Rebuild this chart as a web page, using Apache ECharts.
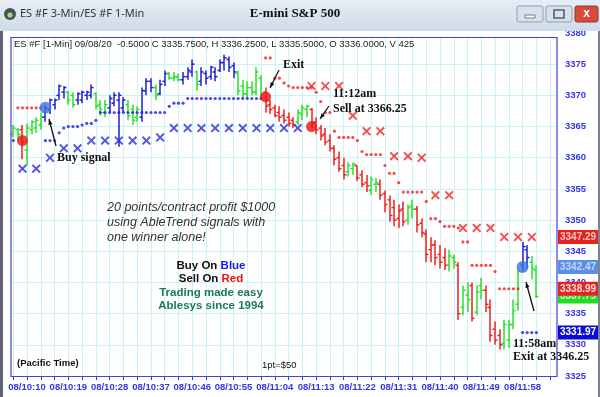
<!DOCTYPE html>
<html>
<head>
<meta charset="utf-8">
<script src="https://cdn.jsdelivr.net/npm/echarts@6/dist/echarts.min.js"></script>
<style>
  html, body { margin: 0; padding: 0; background: #fff; }
  #chart { width: 600px; height: 397px; }
</style>
</head>
<body>
<div id="chart"></div>
<script>
// 1-minute bars, 08/10:07 .. 08/12:01, [open, high, low, close]
var bars = [
  [3363.75,3365.25,3363.25,3364.75],[3364.5,3364.75,3362.75,3363.75],[3364.5,3365.25,3359.75,3362.5],
  [3361.25,3365.5,3358.75,3364.75],[3364.5,3366,3363.75,3365.75],[3364.75,3366.5,3364,3366],
  [3365.25,3367.25,3364.5,3366.5],[3366.5,3368.5,3365.75,3368],[3367.75,3369.5,3367,3369.25],
  [3368.5,3369.5,3367.75,3369.25],[3370,3371.75,3369.25,3371.5],[3370.5,3371.5,3369.5,3371.25],
  [3370.5,3370.75,3368.5,3369.25],[3370,3370.5,3368,3368.5],[3369.25,3370.5,3368.5,3370.25],
  [3369.25,3370.75,3368.75,3370.5],[3370,3370.75,3369.25,3370.5],[3370,3371.75,3369.5,3371.25],
  [3370.25,3370.5,3367.75,3368.25],[3368.5,3369.25,3366.75,3367.75],[3367.25,3369.25,3366.5,3368.5],
  [3368,3370,3367.25,3369.5],[3368.75,3370.5,3368.25,3370],[3369.25,3370.5,3361.75,3370],
  [3368,3369.75,3367.25,3369.25],[3368.5,3369.25,3366,3366.75],[3367.75,3368.5,3365.25,3366],
  [3366.5,3368.25,3365.75,3367.75],[3366.5,3371.25,3365.75,3370.75],[3370.75,3372.75,3370,3372.25],
  [3372.25,3372.75,3370.5,3371.25],[3371.25,3371.75,3369.25,3370],[3370.25,3372.5,3370,3371.75],
  [3372.25,3374,3371.5,3373.5],[3373.5,3373.75,3372.5,3372.75],[3372.75,3373.75,3372.25,3373],
  [3373,3373.5,3372.25,3372.5],[3372.5,3373.75,3371.75,3373],[3373,3374.5,3372.5,3374],
  [3373.75,3375.75,3373,3375],[3373.75,3374,3370.75,3371.75],[3372.25,3374.5,3371.5,3373.75],
  [3373.5,3374,3371.75,3372.75],[3373,3374.75,3372.5,3374.5],[3373.75,3374.5,3372.25,3373],
  [3374,3375.75,3373.75,3375.25],[3375.25,3376.5,3374,3376],[3375.75,3376.25,3373.75,3374.5],
  [3374.75,3375.25,3372.75,3373.75],[3373.5,3374,3370,3370.75],[3371.5,3372.5,3369.5,3370.25],
  [3370.25,3372.25,3369.5,3371.25],[3371.25,3372.25,3370,3370.5],[3370.5,3374.5,3370,3373.75],
  [3372.75,3373.25,3369.5,3370.25],[3370.5,3371.25,3367.25,3368.25],[3368.5,3369.25,3367,3367.75],
  [3368,3368.5,3366.5,3366.75],[3367.25,3368.25,3365.75,3366.5],[3366.75,3367.75,3365.5,3366],
  [3366.5,3367.25,3365,3365.5],[3366,3366.5,3364.75,3365.25],[3365.75,3367.75,3365.25,3367.25],
  [3367,3368.5,3366,3368],[3367.75,3368.5,3366.5,3368.25],[3367.75,3368,3364.75,3365.5],
  [3365.75,3366.5,3363.75,3364.5],[3364.75,3365.25,3362.75,3363.5],[3363.75,3364.75,3362,3362.5],
  [3362.75,3363.75,3361,3361.5],[3361.5,3362,3358.75,3359.75],[3360,3361,3357.75,3358.25],
  [3358.75,3360,3356.5,3357.25],[3357.75,3359.25,3357,3358.75],[3358.25,3359.25,3357.25,3359],
  [3358.75,3358.75,3356.25,3356.75],[3357.25,3358,3355.25,3355.75],[3356,3357.25,3354.5,3355.5],
  [3354.75,3357,3354,3356.5],[3355.75,3356.75,3354.5,3356],[3355.75,3356.5,3353.25,3354],
  [3354.25,3354.75,3351.25,3352.5],[3353.25,3354,3349.75,3350.75],[3352,3353.25,3349,3350],
  [3350.25,3352.5,3348.75,3351.5],[3351.75,3353,3349,3349.75],[3350,3352.5,3349.25,3352],
  [3352.25,3353.25,3350.25,3351.75],[3351.75,3352.25,3348,3349.25],[3349.5,3350.25,3347.25,3348],
  [3347.75,3348.5,3343.25,3344.5],[3345.25,3347.25,3343.25,3346],[3346,3346.75,3342.75,3344],
  [3344.5,3346,3342.25,3343.25],[3344,3345.5,3342,3342.75],[3342.75,3345.25,3341.75,3344.25],
  [3344,3344.5,3342.25,3343.25],[3342.75,3343.25,3334,3335],[3336,3339.5,3334.75,3338.75],
  [3338,3340,3335.25,3337.25],[3339.5,3340,3333.75,3334.25],[3335.25,3339.5,3334.75,3338.5],
  [3339.5,3340.75,3337.25,3338.75],[3338.75,3339.5,3335.25,3336.5],[3336,3337.25,3330.5,3331.5],
  [3332.5,3333.75,3330,3330.75],[3331.5,3332.5,3329.25,3330],[3330.25,3334,3329.25,3333.25],
  [3330.75,3334,3329.5,3333.25],[3333.25,3337.25,3332.5,3335.5],[3336.5,3342.25,3335.5,3341.75],
  [3342.75,3346.5,3341.75,3345.75],[3345.25,3346,3342.25,3344],[3343.25,3344.25,3340.5,3342.25],
  [3342,3342.75,3337.5,3337.75]
];
// bar colour state per bar: b = up trend, g = neutral, r = down trend
var trend = ('ggrgggg' + 'bbbbb' + 'gg' + 'bbbb' + 'ggg' + 'bbbb' + 'ggg' + 'bbb' + 'g' + 'bb' + 'ggg' +
  'bbb' + 'g' + 'bbbbbbbb' + 'gggggg' + 'rrrrrrr' + 'ggg' + 'rrrrrrrr' + 'gg' + 'rrr' + 'gg' + 'rrrrrr' +
  'gg' + 'rrrrrrr' + 'gg' + 'r' + 'gg' + 'r' + 'gg' + 'rrrr' + 'gggg' + 'bb' + 'gg').split('');

// 1-min stop dots [barIndex, price]
var blueStops = [
  [0,3362.75],[7,3362.75],[8,3362.75],[9,3362.75],[10,3364],[11,3364.75],[12,3365],[13,3365],
  [14,3365],[15,3365.25],[16,3365.5],[17,3365.5],[18,3366],[19,3367.25],[20,3367.25],[21,3367.25],
  [22,3367.25],[23,3367.25],[24,3367.25],[25,3367.25],[26,3367.25],[27,3367.25],[28,3367.25],
  [29,3367.25],[30,3367.25],[31,3367.25],[32,3367.25],[33,3367.25],[34,3368.25],[35,3368.75],
  [36,3368.75],[37,3368.75],[38,3369.5],[39,3369.5],[40,3369.5],[41,3369.5],[42,3369.5],[43,3369.5],
  [44,3369.5],[45,3369.5],[46,3369.5],[47,3369.5],[48,3369.5],[49,3369.5],[50,3369.5],[51,3369.5],
  [52,3369.5],[53,3369.5],[54,3369.5],[111,3331.97],[112,3331.97],[113,3331.97],[114,3331.97]
];
var redStops = [
  [1,3368],[2,3368],[3,3368],[4,3368],[5,3368],[6,3368],
  [55,3376],[56,3376],[57,3372.75],[58,3372.75],[59,3372],[60,3371.5],[61,3371.25],[62,3371.25],
  [63,3371.25],[64,3371.25],[65,3371.25],[66,3370.5],[67,3369],[68,3367.25],[69,3367.25],
  [70,3364.25],[71,3363.25],[72,3363.25],[73,3363.25],[74,3363.25],[75,3362.75],[76,3361],
  [77,3360.5],[78,3360.5],[79,3360.5],[80,3360.5],[81,3358.75],[82,3357.5],[83,3357.5],[84,3356],
  [85,3354.5],[86,3354.5],[87,3354.5],[88,3354.5],[89,3354.5],[90,3353],[91,3350.25],[92,3350.25],
  [93,3349.75],[94,3349],[95,3349],[96,3349],[97,3348.75],[98,3346.5],[99,3346.5],[100,3342.75],
  [101,3342.75],[102,3342.75],[103,3342.75],[104,3342.75],[105,3341.75],[106,3338.99],[107,3338.99],
  [108,3338.99],[109,3338.99],[110,3338.99]
];
// 3-min stop crosses
var blueCross = [
  [2,3358.25],[5,3358.25],[8,3360],[11,3361.5],[14,3361.5],[17,3362.75],[20,3362.75],[23,3362.75],
  [26,3362.75],[29,3362.75],[32,3363.25],[35,3364.75],[38,3364.75],[41,3364.75],[44,3364.75],
  [47,3364.75],[50,3364.75],[53,3364.75],[56,3364.75],[59,3364.75],[62,3364.75]
];
var redCross = [
  [65,3371.5],[68,3371.5],[71,3371.5],[74,3366.75],[77,3364.25],[80,3364.25],[83,3360.25],
  [86,3360.25],[89,3360],[92,3354],[95,3354],[98,3348.75],[101,3348.75],[104,3348.75],
  [107,3347.29],[110,3347.29],[113,3347.29]
];
// signal circles
var buySignals = [[7,3368],[111,3342.47]];
var sellSignals = [[2,3362.75],[55,3369.75],[65,3365]];
// price tags on the right scale
var tagGreen = [3337.75];
var tagValues = [3347.29, 3342.47, 3338.99, 3331.97];
var yTicks = { min: 3325, max: 3380, step: 5 };

var times = [];
for (var m = 607; m <= 725; m++) {
  var hh = Math.floor(m / 60), mm = m % 60;
  times.push('08/' + hh + ':' + (mm < 10 ? '0' : '') + mm);
}

var trendColors = { b: '#1e1ed6', g: '#27e227', r: '#ee1f1f' };
var blue = '#3434ea';

function renderBar(params, api) {
  var i = api.value(0);
  var o = api.coord([i, api.value(1)]);
  var h = api.coord([i, api.value(2)]);
  var l = api.coord([i, api.value(3)]);
  var c = api.coord([i, api.value(4)]);
  var x = Math.round(o[0]);
  var st = { stroke: trendColors[trend[params.dataIndex]], lineWidth: 1.5 };
  return {
    type: 'group',
    children: [
      { type: 'line', shape: { x1: x, y1: h[1], x2: x, y2: l[1] }, style: st },
      { type: 'line', shape: { x1: x - 2.5, y1: o[1], x2: x, y2: o[1] }, style: st },
      { type: 'line', shape: { x1: x, y1: c[1], x2: x + 2.5, y2: c[1] }, style: st }
    ]
  };
}

function arrow(x1, y1, x2, y2) {
  var a = Math.atan2(y2 - y1, x2 - x1), s = 6;
  return [
    { type: 'line', z: 60, shape: { x1: x1, y1: y1, x2: x2, y2: y2 }, style: { stroke: '#111', lineWidth: 1.3 } },
    { type: 'polygon', z: 60, shape: { points: [[x2, y2],
      [x2 - s * Math.cos(a - 0.35), y2 - s * Math.sin(a - 0.35)],
      [x2 - s * Math.cos(a + 0.35), y2 - s * Math.sin(a + 0.35)]] }, style: { fill: '#111' } }
  ];
}

function txt(x, y, text, font, fill, align) {
  return { type: 'text', z: 60, x: x, y: y,
    style: { text: text, font: font, fill: fill || '#111', align: align || 'left', verticalAlign: 'middle' } };
}

function tag(v, bg, fg) {
  return { yAxis: v, label: { backgroundColor: bg, color: fg } };
}

var tagLine = {
  silent: true, symbol: 'none', animation: false,
  lineStyle: { color: 'rgba(0,0,0,0)', width: 0, type: 'solid' },
  label: { show: true, position: 'end', distance: 1, fontWeight: 'bold', fontSize: 10,
    fontFamily: 'Liberation Sans', padding: [2, 2, 2, 2],
    formatter: function (p) { return Number(p.value).toFixed(2); } }
};

var cross = 'path://M0,1.5L1.5,0L5,3.5L8.5,0L10,1.5L6.5,5L10,8.5L8.5,10L5,6.5L1.5,10L0,8.5L3.5,5Z';
var serif = '"Liberation Serif", "DejaVu Serif", serif';
var sans = '"Liberation Sans", Arial, sans-serif';

var chart = echarts.init(document.getElementById('chart'));

var graphics = [
  // window title bar
  { type: 'rect', z: 40, shape: { x: 0, y: 0, width: 600, height: 31 },
    style: { fill: new echarts.graphic.LinearGradient(0, 0, 0, 1, [{ offset: 0, color: '#e6edf5' }, { offset: 1, color: '#cfdbe8' }]) } },
  { type: 'rect', z: 40, shape: { x: 0, y: 31, width: 3, height: 366 }, style: { fill: '#5d6671' } },
  { type: 'rect', z: 40, shape: { x: 598, y: 31, width: 2, height: 366 }, style: { fill: '#7a838e' } },
  { type: 'circle', z: 41, shape: { cx: 10, cy: 14, r: 6 }, style: { fill: '#4a4f55' } },
  { type: 'circle', z: 42, shape: { cx: 10, cy: 15, r: 2.6 }, style: { fill: '#8fe08f' } },
  txt(20, 14, 'ES #F 3-Min/ES #F 1-Min', '11px "Noto Sans", sans-serif', '#333'),
  txt(295, 14, 'E-mini S&P 500', 'bold 13px ' + serif, '#111', 'center'),
  { type: 'rect', z: 41, shape: { x: 517, y: 6, width: 26, height: 16, r: 2 }, style: { fill: '#d6e1ee', stroke: '#8d9db2' } },
  { type: 'rect', z: 42, shape: { x: 525, y: 15, width: 10, height: 3 }, style: { fill: '#fff', stroke: '#55606e', lineWidth: 0.8 } },
  { type: 'rect', z: 41, shape: { x: 546, y: 6, width: 26, height: 16, r: 2 }, style: { fill: '#d6e1ee', stroke: '#8d9db2' } },
  { type: 'rect', z: 42, shape: { x: 554, y: 10, width: 10, height: 8 }, style: { fill: 'none', stroke: '#55606e', lineWidth: 1.6 } },
  { type: 'rect', z: 41, shape: { x: 575, y: 6, width: 23, height: 16, r: 2 }, style: { fill: '#d8493e', stroke: '#8d3a33' } },
  txt(586.5, 14, 'x', 'bold 12px ' + sans, '#fff', 'center'),
  // plot frame, top strip kept white above the border
  { type: 'rect', z: 30, shape: { x: 10, y: 32, width: 548, height: 5 }, style: { fill: '#fff' } },
  { type: 'rect', z: 31, shape: { x: 11, y: 37.5, width: 546, height: 339 }, style: { fill: 'none', stroke: '#4040d8', lineWidth: 1.2 } },
  txt(14, 44, 'ES #F [1-Min] 09/08/20  -0.5000 C 3335.7500, H 3336.2500, L 3335.5000, O 3336.0000, V 425', '9.5px ' + sans, '#222'),
  // notes
  txt(107, 208, '20 points/contract profit $1000', 'italic 12.5px ' + sans, '#333'),
  txt(107, 223, 'using AbleTrend signals with', 'italic 12.5px ' + sans, '#333'),
  txt(107, 238, 'one winner alone!', 'italic 12.5px ' + sans, '#333'),
  { type: 'text', z: 60, x: 211, y: 266, style: { text: '{k|Buy On }{b|Blue}', align: 'center', verticalAlign: 'middle',
    rich: { k: { font: 'bold 11.5px ' + sans, fill: '#111' }, b: { font: 'bold 11.5px ' + sans, fill: '#1616ee' } } } },
  { type: 'text', z: 60, x: 211, y: 279, style: { text: '{k|Sell On }{r|Red}', align: 'center', verticalAlign: 'middle',
    rich: { k: { font: 'bold 11.5px ' + sans, fill: '#111' }, r: { font: 'bold 11.5px ' + sans, fill: '#ee1111' } } } },
  txt(211, 293, 'Trading made easy', 'bold 11.5px ' + sans, '#1b7a52', 'center'),
  txt(211, 306, 'Ablesys since 1994', 'bold 11.5px ' + sans, '#1b7a52', 'center'),
  txt(17, 363, '(Pacific Time)', 'bold 9.5px ' + sans, '#111'),
  txt(262, 365, '1pt=$50', '9.5px ' + sans, '#111'),
  // signal callouts
  txt(57, 158, 'Buy signal', 'bold 12px ' + serif),
  txt(283, 65, 'Exit', 'bold 12px ' + serif),
  txt(333, 94, '11:12am', 'bold 12px ' + serif),
  txt(333, 109, 'Sell at 3366.25', 'bold 12px ' + serif),
  txt(513, 344, '11:58am', 'bold 12px ' + serif),
  txt(513, 357, 'Exit at 3346.25', 'bold 12px ' + serif)
].concat(arrow(56, 146, 49, 119), arrow(279, 70, 270, 88), arrow(329, 106, 320, 119), arrow(534, 311, 526, 282));

var option = {
  animation: false,
  backgroundColor: '#fff',
  grid: { left: 11, right: 43, top: 33, bottom: 21, show: false },
  xAxis: {
    type: 'category',
    data: times,
    boundaryGap: true,
    axisLine: { show: false },
    axisTick: { show: true, alignWithLabel: true, length: 4, interval: function (i) { return i % 3 === 0; }, lineStyle: { color: blue } },
    axisLabel: { interval: function (i) { return i % 9 === 3; }, color: blue, fontWeight: 'bold', fontSize: 9.5, fontFamily: 'Liberation Sans', margin: 6 },
    splitLine: { show: true, alignWithLabel: true, interval: function (i) { return i % 3 === 0; }, lineStyle: { color: '#c9f3f5', width: 1 } }
  },
  yAxis: {
    type: 'value',
    position: 'right',
    min: yTicks.min, max: yTicks.max, interval: yTicks.step,
    axisLine: { show: false },
    axisTick: { show: false },
    axisLabel: { color: blue, fontWeight: 'bold', fontSize: 9.5, fontFamily: 'Liberation Sans', margin: 8,
      formatter: function (v) { return String(v); } },
    splitLine: { show: true, lineStyle: { color: '#c9f3f5', width: 1 } }
  },
  series: [
    { type: 'custom', renderItem: renderBar, z: 3,
      data: bars.map(function (b, i) { return [i, b[0], b[1], b[2], b[3]]; }),
      encode: { x: 0, y: [1, 2, 3, 4] } },
    { type: 'scatter', data: blueStops, symbol: 'circle', symbolSize: 3.2, z: 4, itemStyle: { color: '#1e1ee8' } },
    { type: 'scatter', data: redStops, symbol: 'circle', symbolSize: 3.2, z: 4, itemStyle: { color: '#f02020' } },
    { type: 'scatter', data: blueCross, symbol: cross, symbolSize: 9, z: 4, itemStyle: { color: '#2a2ad8' } },
    { type: 'scatter', data: redCross, symbol: cross, symbolSize: 9, z: 4, itemStyle: { color: '#ee2424' } },
    { type: 'line', data: [], z: 6,
      markLine: echarts.util.merge({ data: tagGreen.map(function (v) { return tag(v, '#22dd22', '#c8f5c8'); }) }, tagLine) },
    { type: 'line', data: [], z: 7,
      markLine: echarts.util.merge({ data: [tag(tagValues[0], '#e52420', '#f3c7c4'), tag(tagValues[1], '#5b8fe6', '#c3d6f7'),
        tag(tagValues[2], '#e52420', '#f7dcda'), tag(tagValues[3], '#0b0bd6', '#ffffff')] }, tagLine) },
    { type: 'scatter', data: sellSignals, symbol: 'circle', symbolSize: 11, z: 5, itemStyle: { color: '#f01212' } },
    { type: 'scatter', data: buySignals, symbol: 'circle', symbolSize: 12, z: 5, itemStyle: { color: '#3f72e2' } }
  ],
  graphic: graphics
};

chart.setOption(option);
</script>
</body>
</html>
